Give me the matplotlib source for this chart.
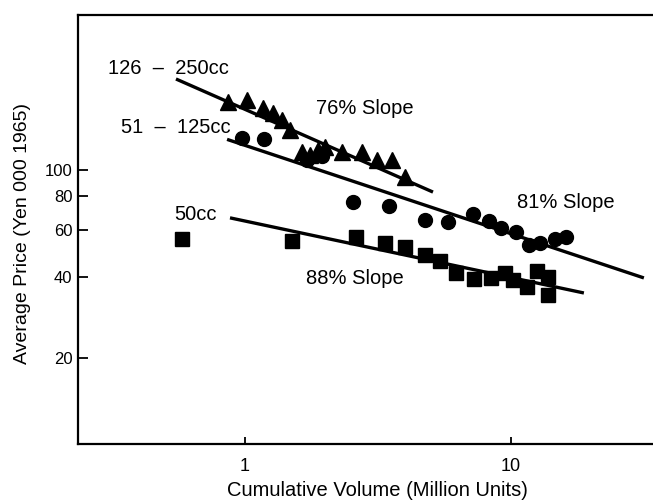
import numpy as np
import matplotlib
matplotlib.use("Agg")
import matplotlib.pyplot as plt

plt.rcParams['font.family'] = ['Liberation Sans', 'DejaVu Sans']

# 126 - 250cc (triangles)
vol_250 = [0.86, 1.02, 1.17, 1.27, 1.38, 1.48, 1.64, 1.75, 1.88, 2.0, 2.32, 2.75, 3.14, 3.57, 4.0]
price_250 = [179, 182, 170, 163, 153, 141, 117, 114, 119, 122, 117, 117, 109, 109, 94]
line_250_x = [0.55, 5.09]
line_250_y = [218, 82.8]

# 51 - 125cc (circles)
vol_125 = [0.97, 1.18, 1.71, 1.95, 2.55, 3.48, 4.75, 5.8, 7.2, 8.26, 9.17, 10.4, 11.7, 12.9, 14.6, 16.1]
price_125 = [131, 130, 109, 113, 76, 73.5, 65.2, 64.1, 68.6, 64.6, 60.8, 58.8, 52.6, 53.5, 55.4, 56.3]
line_125_x = [0.856, 31.6]
line_125_y = [130, 39.7]

# 50cc (squares)
vol_50 = [0.58, 1.50, 2.61, 3.36, 4.0, 4.75, 5.41, 6.21, 7.26, 8.41, 9.49, 10.2, 11.5, 12.5, 13.8, 13.8]
price_50 = [55.4, 54.4, 56.4, 53.5, 51.8, 48.3, 45.9, 41.4, 39.3, 39.7, 41.4, 39.0, 36.7, 42.2, 40.0, 34.3]
line_50_x = [0.878, 18.8]
line_50_y = [66.4, 34.9]

x_ticks = [1, 10]
y_ticks = [20, 40, 60, 80, 100]

fig = plt.figure(figsize=(6.53, 5.03), dpi=100)
# axes runs a little past the right edge, like the cropped original
ax = fig.add_axes([78/653, (503-444)/503, 602/653, 429/503])

ax.plot(line_250_x, line_250_y, color='black', lw=2.4, solid_capstyle='butt')
ax.plot(line_125_x, line_125_y, color='black', lw=2.4, solid_capstyle='butt')
ax.plot(line_50_x, line_50_y, color='black', lw=2.4, solid_capstyle='butt')

ax.plot(vol_250, price_250, ls='none', marker='^', ms=11, color='black')
ax.plot(vol_125, price_125, ls='none', marker='o', ms=10, color='black')
ax.plot(vol_50, price_50, ls='none', marker='s', ms=9.5, color='black')

ax.set_xscale('log')
ax.set_yscale('log')
ax.set_xlim(0.2355, 43.2)
ax.set_ylim(9.58, 377)

ax.set_xticks(x_ticks)
ax.set_xticklabels([str(t) for t in x_ticks])
ax.set_yticks(y_ticks)
ax.set_yticklabels([str(t) for t in y_ticks])
ax.minorticks_off()
ax.tick_params(axis='x', direction='in', length=5, width=1.3, pad=10, labelsize=13)
ax.tick_params(axis='y', direction='in', length=7, width=1.3, pad=4, labelsize=12)

for s in ax.spines.values():
    s.set_linewidth(1.6)

ax.set_xlabel('Cumulative Volume (Million Units)', fontsize=14.5)
ax.set_ylabel('Average Price (Yen 000 1965)', fontsize=14)
ax.xaxis.set_label_coords(0.497, -0.086)
ax.yaxis.set_label_coords(-0.078, 0.49)

kw = dict(fontsize=14.5, color='black', va='center', ha='center')
ax.text(0.514, 239, '126  \u2013  250cc', **kw)
ax.text(0.55, 144.5, '51  \u2013  125cc', **kw)
ax.text(2.83, 170, '76% Slope', **kw)
ax.text(16.1, 76, '81% Slope', **kw)
ax.text(2.59, 39.4, '88% Slope', **kw)
ax.text(0.654, 68.1, '50cc', **kw)

fig.savefig('out.png', dpi=100)
